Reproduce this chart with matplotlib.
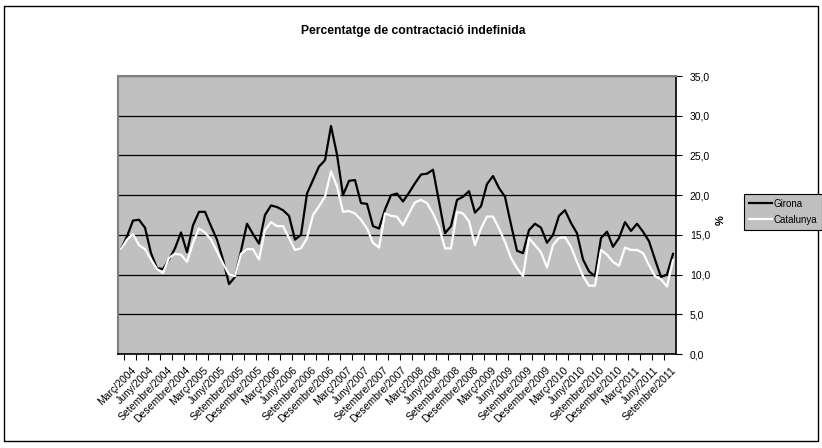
import matplotlib.pyplot as plt
import matplotlib.transforms as mtransforms
from matplotlib.patches import Rectangle

plt.rcParams['font.family'] = ['Liberation Sans', 'DejaVu Sans']

# Catalan month names, series runs from Març/2004 to Novembre/2011
months = ["Gener", "Febrer", "Març", "Abril", "Maig", "Juny", "Juliol",
          "Agost", "Setembre", "Octubre", "Novembre", "Desembre"]
start_year = 2004
start_month = 2  # index into months -> Març

girona = [13.2, 14.8, 16.8, 16.9, 15.9, 12.7, 10.8, 10.7, 11.9, 13.3,
          15.3, 12.8, 16.2, 17.9, 17.9, 16.1, 14.4, 11.9, 8.8, 9.7,
          13.0, 16.4, 15.1, 13.9, 17.5, 18.7, 18.5, 18.1, 17.4, 14.4,
          15.0, 20.2, 21.9, 23.6, 24.4, 28.7, 25.1, 20.0, 21.8, 21.9,
          19.0, 18.9, 16.1, 15.8, 18.2, 20.0, 20.2, 19.2, 20.3, 21.5,
          22.6, 22.7, 23.2, 19.2, 15.2, 16.1, 19.4, 19.8, 20.5, 17.8,
          18.6, 21.4, 22.4, 20.9, 19.8, 16.3, 13.0, 12.7, 15.6, 16.4,
          15.9, 14.0, 15.0, 17.4, 18.1, 16.5, 15.2, 11.9, 10.4, 9.8,
          14.6, 15.4, 13.5, 14.6, 16.6, 15.5, 16.4, 15.4, 14.2, 11.9,
          9.7, 10.0, 12.6]

catalunya = [13.2, 14.4, 15.1, 13.7, 13.2, 11.9, 10.7, 10.2, 12.1, 12.6,
             12.5, 11.6, 14.0, 15.8, 15.3, 14.4, 12.9, 11.4, 10.0, 9.8,
             12.6, 13.2, 13.2, 11.9, 15.6, 16.6, 16.1, 16.1, 14.6, 13.1,
             13.3, 14.6, 17.5, 18.6, 19.8, 23.0, 21.1, 17.9, 18.0, 17.7,
             16.9, 15.8, 14.0, 13.4, 17.7, 17.4, 17.3, 16.2, 17.7, 19.1,
             19.4, 19.0, 17.7, 16.0, 13.3, 13.3, 17.9, 17.7, 16.7, 13.7,
             15.8, 17.3, 17.3, 15.8, 14.1, 12.1, 10.8, 9.8, 14.6, 13.7,
             12.8, 10.9, 13.7, 14.6, 14.7, 13.5, 11.6, 9.8, 8.6, 8.6,
             13.1, 12.5, 11.6, 11.1, 13.4, 13.1, 13.1, 12.7, 11.2, 9.8,
             9.4, 8.5, 11.8]

categories = []
for k in range(len(girona)):
    m = start_month + k
    categories.append(f"{months[m % 12]}/{start_year + m // 12}")

y_ticks = [0, 5, 10, 15, 20, 25, 30, 35]

W, H = 822, 448
fig = plt.figure(figsize=(W / 100, H / 100), dpi=100)

# outer chart border
fig.add_artist(Rectangle((4 / W, 1 - 441 / H), (818 - 4) / W, (441 - 6) / H,
                         transform=fig.transFigure, fill=False,
                         ec='black', lw=1))

ax = fig.add_axes([118 / W, 1 - 354 / H, 558 / W, 278 / H])
ax.set_facecolor('#C0C0C0')

x = list(range(len(girona)))
ax.plot(x, girona, color='black', lw=1.6, label='Girona', zorder=3)
ax.plot(x, catalunya, color='white', lw=1.6, label='Catalunya', zorder=3)

ax.set_xlim(-0.5, len(girona) - 0.5)
ax.set_ylim(0, 35)

# value axis on the right
ax.yaxis.tick_right()
ax.set_yticks(y_ticks)
ax.set_yticklabels([f"{v:.1f}".replace('.', ',') for v in y_ticks], fontsize=7.5)
ax.tick_params(axis='y', direction='out', length=4, width=0.8, pad=6, color='black')
ax.yaxis.grid(True, color='black', lw=0.9)
ax.set_axisbelow(True)

# category axis: labels every 3 months, tick marks every 2 months
lab_pos = x[::3]
ax.set_xticks(lab_pos)
ax.set_xticklabels([categories[i] for i in lab_pos], rotation=45,
                   ha='right', va='top', fontsize=7.5)
ax.tick_params(axis='x', which='major', length=0, pad=8)
ax.set_xticks([i + 0.5 for i in range(0, len(girona) - 1, 2)], minor=True)
ax.tick_params(axis='x', which='minor', direction='out', length=4, width=0.8, color='black')
offset = mtransforms.ScaledTranslation(17 / 100, 0, fig.dpi_scale_trans)
for lab in ax.get_xticklabels():
    lab.set_transform(lab.get_transform() + offset)

for side in ['top', 'left']:
    ax.spines[side].set_color('#808080')
    ax.spines[side].set_linewidth(1.5)
for side in ['right', 'bottom']:
    ax.spines[side].set_color('black')
    ax.spines[side].set_linewidth(1.2)

fig.text(721 / W, 1 - 220 / H, '%', rotation=90, ha='center', va='center',
         fontsize=8, fontweight='bold')

fig.text(413 / W, 1 - 31 / H, 'Percentatge de contractació indefinida',
         ha='center', va='center', fontsize=8.7, fontweight='bold')

leg = fig.legend(loc='upper left', bbox_to_anchor=(744 / W, 1 - 194 / H),
                 fontsize=7, frameon=True, fancybox=False, edgecolor='black',
                 facecolor='#C0C0C0', handlelength=2.4, handletextpad=0.15,
                 borderpad=0.5, labelspacing=0.6, borderaxespad=0)
leg.get_frame().set_linewidth(0.8)
leg.get_frame().set_alpha(1)

fig.savefig('out.png', dpi=100)
